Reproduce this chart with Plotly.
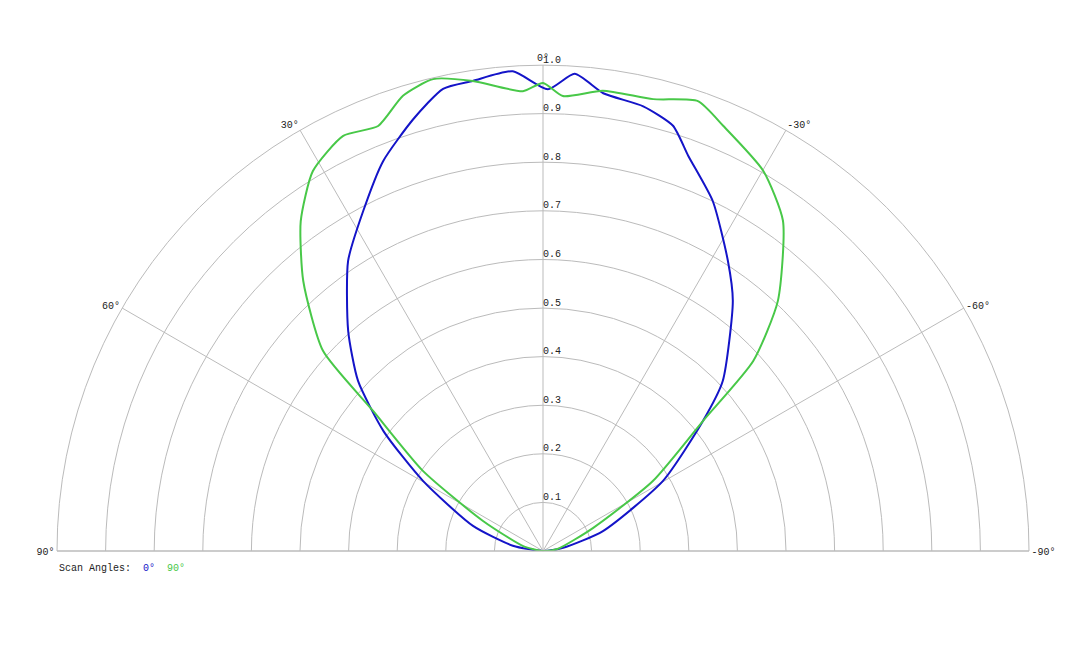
import plotly.graph_objects as go

blue_theta = [90, 80, 70.3, 59.7, 53.1, 47.4, 41.5, 33.9, 27.9, 22.3, 16.7, 12.2, 8.5, 3.6, -0.6, -3.8, -7.5, -12.7, -17, -20.2, -25.9, -32.5, -37.2, -46.6, -50.9, -59.7, -71.6, -81, -90]
blue_r = [0, 0.063, 0.153, 0.286, 0.41, 0.517, 0.605, 0.719, 0.791, 0.867, 0.928, 0.973, 0.978, 0.989, 0.95, 0.984, 0.95, 0.938, 0.915, 0.866, 0.80, 0.708, 0.646, 0.509, 0.424, 0.286, 0.13, 0.042, 0]

green_theta = [90, 76, 63.4, 56.3, 50.5, 47.7, 41.6, 36.3, 31.2, 25.7, 21.2, 17.1, 13.1, 8.5, 2.5, 0, -2.5, -7.4, -13.7, -19, -23, -30.1, -36, -43.2, -47.9, -50.9, -57.5, -65.3, -82, -90]
green_r = [0, 0.042, 0.138, 0.297, 0.453, 0.612, 0.743, 0.842, 0.914, 0.948, 0.938, 0.98, 0.997, 0.978, 0.947, 0.963, 0.937, 0.955, 0.957, 0.979, 0.95, 0.904, 0.84, 0.706, 0.583, 0.424, 0.268, 0.113, 0.03, 0]

ang_ticks = [90, 60, 30, 0, -30, -60, -90]
ang_text = ["90°", "60°", "30°", "0°", "-30°", "-60°", "-90°"]
r_ticks = [0.1, 0.2, 0.3, 0.4, 0.5, 0.6, 0.7, 0.8, 0.9, 1.0]

BLUE = "#1414c8"
GREEN = "#48c848"
FONT = "Liberation Mono"

fig = go.Figure()
fig.add_trace(go.Scatterpolar(r=blue_r, theta=blue_theta, mode="lines", line=dict(color=BLUE, width=2, shape="spline", smoothing=0.6), name="0°"))
fig.add_trace(go.Scatterpolar(r=green_r, theta=green_theta, mode="lines", line=dict(color=GREEN, width=2, shape="spline", smoothing=0.6), name="90°"))
fig.add_trace(go.Scatterpolar(r=r_ticks, theta=[0] * len(r_ticks), mode="text",
                              text=[f"{v:.1f}" for v in r_ticks], textposition="top right",
                              textfont=dict(family=FONT, size=10, color="#222"), hoverinfo="skip"))

fig.update_layout(
    width=1080, height=648, showlegend=False,
    paper_bgcolor="white", plot_bgcolor="white",
    font=dict(family=FONT, size=10, color="#222"),
    margin=dict(l=49, r=59, t=57, b=105),
    polar=dict(
        sector=[0, 180], bgcolor="white",
        angularaxis=dict(rotation=90, direction="counterclockwise", tickmode="array",
                         tickvals=ang_ticks, ticktext=ang_text, gridcolor="#bbbbbb",
                         linecolor="#bbbbbb", showline=True, ticks=""),
        radialaxis=dict(range=[0, 1], tickvals=r_ticks, showticklabels=False,
                        angle=90, gridcolor="#bbbbbb", showline=False, ticks=""),
    ),
)
fig.add_annotation(xref="paper", yref="paper", x=0.0, y=-0.02, xanchor="left", yanchor="top", showarrow=False,
                   text=f"Scan Angles:  <span style='color:{BLUE}'>0°</span>  <span style='color:{GREEN}'>90°</span>",
                   font=dict(family=FONT, size=10, color="#222"))
fig.write_html("out.html")
